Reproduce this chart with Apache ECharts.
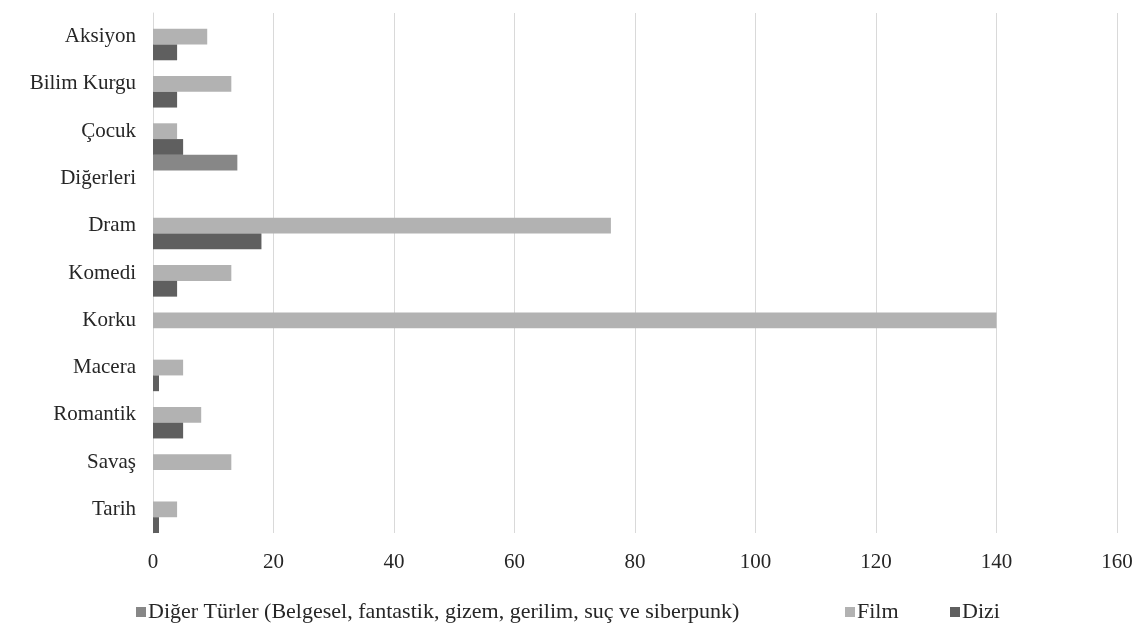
<!DOCTYPE html>
<html>
<head>
<meta charset="utf-8">
<script src="https://cdn.jsdelivr.net/npm/echarts@6/dist/echarts.min.js"></script>
<style>html,body{margin:0;padding:0;background:#fff;}#c{width:1148px;height:626px;}</style>
</head>
<body>
<div id="c"></div>
<script>
const categories = ['Aksiyon','Bilim Kurgu','Çocuk','Diğerleri','Dram','Komedi','Korku','Macera','Romantik','Savaş','Tarih'];
const seriesNames = ['Diğer Türler (Belgesel, fantastik, gizem, gerilim, suç ve siberpunk)','Film','Dizi'];
const digerValues = [0,0,0,14,0,0,0,0,0,0,0];
const filmValues = [9,13,4,0,76,13,140,5,8,13,4];
const diziValues = [4,4,5,0,18,4,0,1,5,0,1];
const xTicks = [0,20,40,60,80,100,120,140,160];

const font = "'Liberation Serif', 'Times New Roman', serif";
const textColor = '#262626';
const colors = ['#878787','#b2b2b2','#5f5f5f'];
const legendLefts = [136, 845, 950];
const chart = echarts.init(document.getElementById('c'), null, {renderer:'canvas'});
const mk = (name, data, color) => ({
  name, type:'bar', data, barGap:'0%', barCategoryGap:'0%',
  itemStyle:{color}, animation:false
});
chart.setOption({
  animation:false,
  textStyle:{fontFamily:font},
  grid:{left:153, right:31, top:13, bottom:93, containLabel:false},
  legend: seriesNames.map((n, i) => ({
    top:601, left:legendLefts[i], padding:0, itemWidth:10, itemHeight:10, itemGap:0,
    icon:'rect', selectedMode:false,
    textStyle:{fontFamily:font, fontSize:22, color:textColor, padding:[0,0,0,-3]},
    data:[n]
  })),
  xAxis:{
    type:'value', min:xTicks[0], max:xTicks[xTicks.length-1], interval:xTicks[1]-xTicks[0],
    axisLine:{show:false}, axisTick:{show:false},
    splitLine:{lineStyle:{color:'#d9d9d9', width:1}},
    axisLabel:{fontFamily:font, fontSize:21, color:textColor, margin:19}
  },
  yAxis:{
    type:'category', data:categories, inverse:true,
    axisLine:{show:true, lineStyle:{color:'#d9d9d9', width:1}},
    axisTick:{show:false},
    axisLabel:{fontFamily:font, fontSize:21, color:textColor, margin:17}
  },
  series:[
    mk(seriesNames[0], digerValues, colors[0]),
    mk(seriesNames[1], filmValues, colors[1]),
    mk(seriesNames[2], diziValues, colors[2])
  ]
});
</script>
</body>
</html>
